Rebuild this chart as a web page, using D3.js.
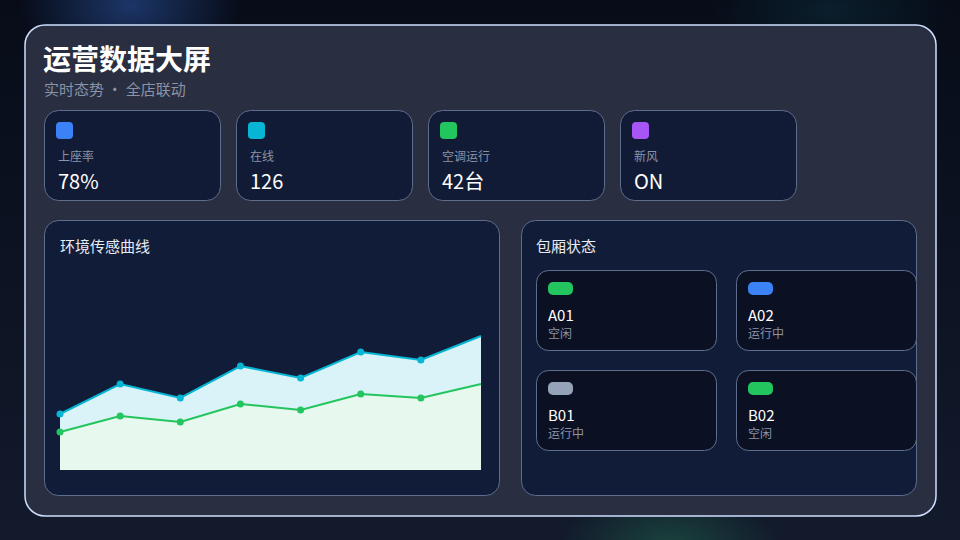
<!DOCTYPE html>
<html>
<head>
<meta charset="utf-8">
<script src="https://cdn.jsdelivr.net/npm/d3@7"></script>
<style>
  html, body { margin: 0; padding: 0; background: #0b1120; }
  svg { display: block; font-family: "Noto Sans CJK SC", "Noto Sans", sans-serif; }
</style>
</head>
<body>
<div id="screen"></div>
<script>
// data
const kpiLabels = ["上座率", "在线", "空调运行", "新风"];
const kpiValues = ["78%", "126", "42台", "ON"];
const timeSlots = ["10:00", "11:00", "12:00", "13:00", "14:00", "15:00", "16:00", "17:00"];
const humidity = [28, 43, 36, 52, 46, 59, 55, 67];
const temperature = [19, 27, 24, 33, 30, 38, 36, 43];
const roomNames = ["A01", "A02", "B01", "B02"];
const roomStatus = ["空闲", "运行中", "运行中", "空闲"];

// styles
const kpiColors = ["#3b82f6", "#06b6d4", "#22c55e", "#a855f7"];
const roomColors = ["#22c55e", "#3b82f6", "#94a3b8", "#22c55e"];

const width = 960;
const height = 540;

const svg = d3.select("#screen")
  .append("svg")
  .attr("width", width)
  .attr("height", height);

const defs = svg.append("defs");

const bg = defs.append("linearGradient").attr("id", "bg").attr("x1", 0).attr("y1", 0).attr("x2", 0).attr("y2", 1);
bg.append("stop").attr("offset", "0%").attr("stop-color", "#070c18");
bg.append("stop").attr("offset", "100%").attr("stop-color", "#121a2c");

const glow = (id, color, op) => {
  const g = defs.append("radialGradient").attr("id", id);
  g.append("stop").attr("offset", "0%").attr("stop-color", color).attr("stop-opacity", op);
  g.append("stop").attr("offset", "100%").attr("stop-color", color).attr("stop-opacity", 0);
};
glow("glowBlue", "#1e3a70", 0.9);
glow("glowGreen", "#1b4d40", 0.8);
glow("glowTeal", "#0f3a48", 0.4);

svg.append("rect").attr("width", width).attr("height", height).attr("fill", "url(#bg)");
svg.append("ellipse").attr("cx", 130).attr("cy", 5).attr("rx", 110).attr("ry", 70).attr("fill", "url(#glowBlue)");
svg.append("ellipse").attr("cx", 670).attr("cy", 545).attr("rx", 110).attr("ry", 60).attr("fill", "url(#glowGreen)");
svg.append("ellipse").attr("cx", 830).attr("cy", 10).attr("rx", 120).attr("ry", 60).attr("fill", "url(#glowTeal)");

// main panel
svg.append("rect")
  .attr("x", 25).attr("y", 25).attr("width", 911).attr("height", 491)
  .attr("rx", 20)
  .attr("fill", "#292e40")
  .attr("stroke", "#cfe0ff")
  .attr("stroke-width", 1.5);

svg.append("text")
  .attr("x", 43).attr("y", 70)
  .attr("fill", "#ffffff")
  .attr("font-size", 28)
  .attr("font-weight", 700)
  .text("运营数据大屏");

svg.append("text")
  .attr("x", 44).attr("y", 95)
  .attr("fill", "#8b93a7")
  .attr("font-size", 15)
  .text("实时态势 · 全店联动");

// kpi cards
const kpi = svg.selectAll(".kpi")
  .data(kpiLabels)
  .enter()
  .append("g")
  .attr("class", "kpi")
  .attr("transform", (d, i) => "translate(" + (44 + i * 192) + ",110)");

kpi.append("rect")
  .attr("x", 0.5).attr("y", 0.5).attr("width", 176).attr("height", 90)
  .attr("rx", 14)
  .attr("fill", "#111b36")
  .attr("stroke", "#5f6e8e");

kpi.append("rect")
  .attr("x", 12).attr("y", 12).attr("width", 17).attr("height", 17)
  .attr("rx", 4)
  .attr("fill", (d, i) => kpiColors[i]);

kpi.append("text")
  .attr("x", 14).attr("y", 51)
  .attr("fill", "#8b93a7")
  .attr("font-size", 12)
  .text(d => d);

kpi.append("text")
  .attr("x", 14).attr("y", 79)
  .attr("fill", "#ffffff")
  .attr("font-size", 20)
  .text((d, i) => kpiValues[i]);

// chart panel
svg.append("rect")
  .attr("x", 44.5).attr("y", 220.5).attr("width", 455).attr("height", 275)
  .attr("rx", 14)
  .attr("fill", "#111d38")
  .attr("stroke", "#5f6e8e");

svg.append("text")
  .attr("x", 60).attr("y", 252)
  .attr("fill", "#e8ecf4")
  .attr("font-size", 15)
  .text("环境传感曲线");

const x = d3.scalePoint().domain(timeSlots).range([60, 481]);
const y = d3.scaleLinear().domain([0, 100]).range([470, 270]);

const series = [
  { values: humidity, line: "#06b6d4", fill: "#d9f3f8" },
  { values: temperature, line: "#22c55e", fill: "#e7f8ee" }
];

const area = d3.area()
  .x((d, i) => x(timeSlots[i]))
  .y0(y(0))
  .y1(d => y(d));

const line = d3.line()
  .x((d, i) => x(timeSlots[i]))
  .y(d => y(d));

const plot = svg.append("g");

series.forEach(s => {
  plot.append("path")
    .datum(s.values)
    .attr("d", area)
    .attr("fill", s.fill);
});

series.forEach(s => {
  plot.append("path")
    .datum(s.values)
    .attr("d", line)
    .attr("fill", "none")
    .attr("stroke", s.line)
    .attr("stroke-width", 2);

  plot.selectAll(null)
    .data(s.values.slice(0, -1))
    .enter()
    .append("circle")
    .attr("cx", (d, i) => x(timeSlots[i]))
    .attr("cy", d => y(d))
    .attr("r", 3.5)
    .attr("fill", s.line);
});

// room panel
svg.append("rect")
  .attr("x", 521.5).attr("y", 220.5).attr("width", 395).attr("height", 275)
  .attr("rx", 14)
  .attr("fill", "#111d38")
  .attr("stroke", "#5f6e8e");

svg.append("text")
  .attr("x", 536).attr("y", 252)
  .attr("fill", "#e8ecf4")
  .attr("font-size", 15)
  .text("包厢状态");

const room = svg.selectAll(".room")
  .data(roomNames)
  .enter()
  .append("g")
  .attr("class", "room")
  .attr("transform", (d, i) => "translate(" + (536 + (i % 2) * 200) + "," + (270 + Math.floor(i / 2) * 100) + ")");

room.append("rect")
  .attr("x", 0.5).attr("y", 0.5).attr("width", 180).attr("height", 80)
  .attr("rx", 12)
  .attr("fill", "#0b1122")
  .attr("stroke", "#5f6e8e");

room.append("rect")
  .attr("x", 12).attr("y", 12).attr("width", 25).attr("height", 13)
  .attr("rx", 5)
  .attr("fill", (d, i) => roomColors[i]);

room.append("text")
  .attr("x", 12).attr("y", 51)
  .attr("fill", "#ffffff")
  .attr("font-size", 15)
  .text(d => d);

room.append("text")
  .attr("x", 12).attr("y", 68)
  .attr("fill", "#8b93a7")
  .attr("font-size", 12)
  .text((d, i) => roomStatus[i]);
</script>
</body>
</html>
